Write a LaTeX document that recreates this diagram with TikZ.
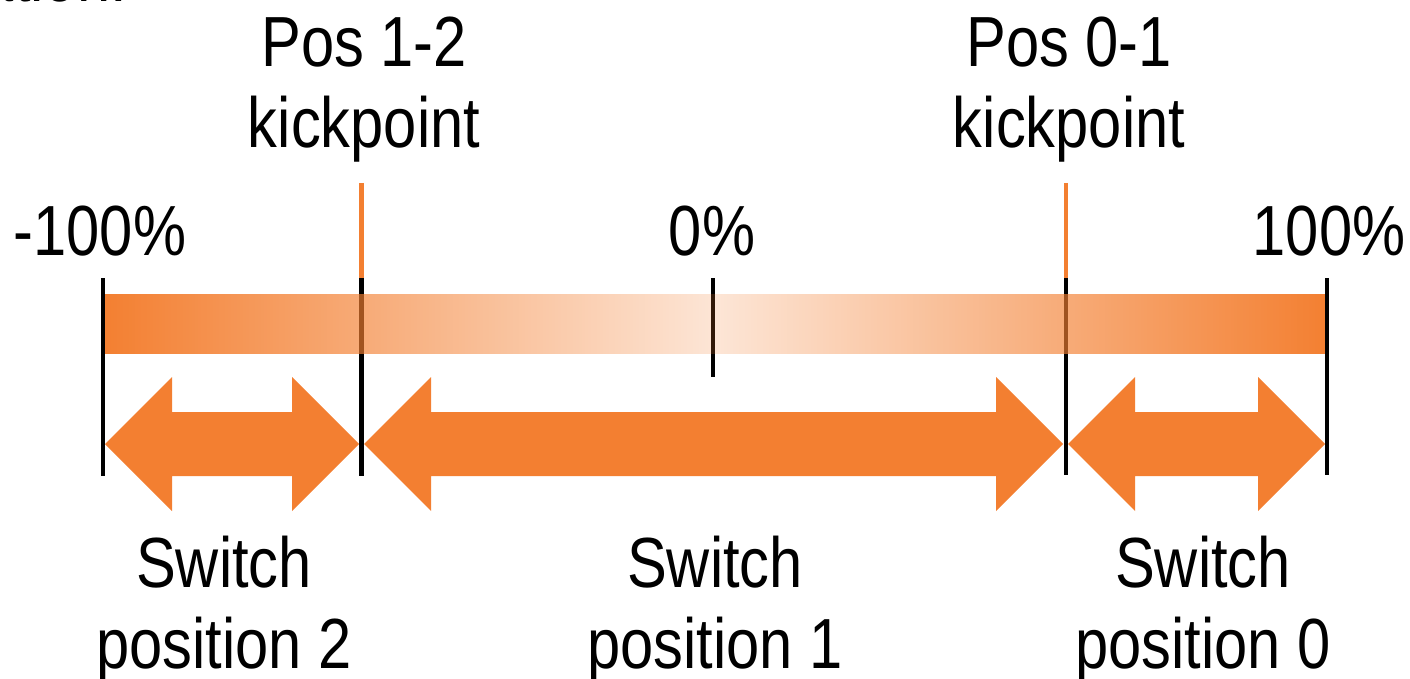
\documentclass[tikz,border=0pt]{standalone}
\usepackage{fontspec}
\setmainfont{Liberation Sans}[FakeStretch=0.84]
\usetikzlibrary{fadings}
\definecolor{kporange}{RGB}{243,127,49}
\tikzfading[name=barfade, left color=transparent!0, right color=transparent!0, middle color=transparent!80]
\newcommand{\dblarrow}[2]{%
  \fill[kporange] (#1,444) -- ({#1+67},377) -- ({#1+67},412) -- ({#2-67},412)
    -- ({#2-67},377) -- (#2,444) -- ({#2-67},511) -- ({#2-67},476)
    -- ({#1+67},476) -- ({#1+67},511) -- cycle;}
\begin{document}
\begin{tikzpicture}[x=1pt,y=-1pt,
  lbl/.style={font=\fontsize{71}{81}\selectfont, inner sep=0pt, align=center, anchor=base},
  tickline/.style={line width=4.7pt, line cap=butt, black},
  kpline/.style={line width=4.3pt, line cap=butt, kporange}]
\useasboundingbox (0,0) rectangle (1410,679);
% labels (base anchor = baseline of the last line)
\node[lbl, anchor=base east] (cut) at (127,2) {ation:};
\node[lbl] (kp12) at (364,148) {Pos 1-2\\kickpoint};
\node[lbl] (kp01) at (1069,148) {Pos 0-1\\kickpoint};
\node[lbl] (m100) at (100,255) {-100\%};
\node[lbl] (zero) at (712,255) {0\%};
\node[lbl] (p100) at (1329,255) {100\%};
\node[lbl] (sw2) at (224,668) {Switch\\position 2};
\node[lbl] (sw1) at (715,668) {Switch\\position 1};
\node[lbl] (sw0) at (1203,668) {Switch\\position 0};
% arrows
\dblarrow{105}{359}
\dblarrow{364}{1063}
\dblarrow{1068}{1325}
% coordinates for lines
\coordinate (l0t) at (103,278);   \coordinate (l0b) at (103,476);
\coordinate (k1o) at (361.5,183); \coordinate (k1t) at (361.5,278); \coordinate (k1b) at (361.5,476);
\coordinate (ct) at (713,278);    \coordinate (cb) at (713,377);
\coordinate (k2o) at (1066,183);  \coordinate (k2t) at (1066,278);  \coordinate (k2b) at (1066,475);
\coordinate (r0t) at (1327,278);  \coordinate (r0b) at (1327,475);
\draw[kpline] (k1o) -- (k1t);
\draw[kpline] (k2o) -- (k2t);
\draw[tickline] (l0t) -- (l0b);
\draw[tickline] (k1t) -- (k1b);
\draw[tickline] (ct) -- (cb);
\draw[tickline] (k2t) -- (k2b);
\draw[tickline] (r0t) -- (r0b);
% gradient bar
\fill[kporange, path fading=barfade] (105,294) rectangle (1326,354);
\end{tikzpicture}
\end{document}
